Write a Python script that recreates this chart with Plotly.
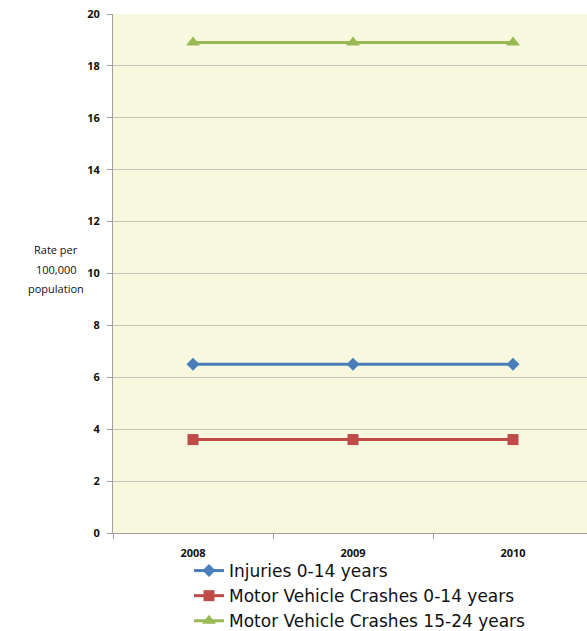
import plotly.graph_objects as go

years = ["2008", "2009", "2010"]
injuries_0_14 = [6.5, 6.5, 6.5]
mvc_0_14 = [3.6, 3.6, 3.6]
mvc_15_24 = [18.9, 18.9, 18.9]
y_ticks = [0, 2, 4, 6, 8, 10, 12, 14, 16, 18, 20]
y_title_lines = ["Rate per", "100,000", "population"]

series = [
    ("Injuries 0-14 years", injuries_0_14, "#4A7EBB", "diamond", 10),
    ("Motor Vehicle Crashes 0-14 years", mvc_0_14, "#BE4B48", "square", 11),
    ("Motor Vehicle Crashes 15-24 years", mvc_15_24, "#98B954", "triangle-up", 12),
]

fig = go.Figure()
for name, vals, color, symbol, size in series:
    fig.add_trace(go.Scatter(
        x=years, y=vals, name=name, mode="lines+markers",
        line=dict(color=color, width=3),
        marker=dict(symbol=symbol, size=size, color=color),
    ))

tick_font = dict(family="Open Sans, Arial, sans-serif", size=11, color="#111", weight="bold")

fig.update_layout(
    width=587, height=631,
    margin=dict(l=113, r=0, t=14, b=98, autoexpand=False),
    paper_bgcolor="white",
    plot_bgcolor="#F8F8DF",
    showlegend=True,
    legend=dict(
        xref="container", yref="container",
        x=0.322, xanchor="left", y=0.1236, yanchor="top",
        font=dict(family="DejaVu Sans, sans-serif", size=17, color="#111"),
        bgcolor="rgba(0,0,0,0)", tracegroupgap=0, itemwidth=30,
    ),
    xaxis=dict(
        type="category", range=[-0.5, 2.4625],
        tickson="boundaries", ticks="outside", ticklen=5, tickcolor="#A0A0A0",
        showgrid=False, showline=True, linecolor="#A0A0A0", linewidth=1,
        tickfont=tick_font, ticklabelstandoff=10, automargin=False,
    ),
    yaxis=dict(
        range=[0, 20], tickvals=y_ticks,
        ticks="outside", ticklen=5, tickcolor="#A0A0A0",
        showgrid=True, gridcolor="#C4C4BC", gridwidth=1,
        showline=True, linecolor="#A0A0A0", linewidth=1,
        tickfont=tick_font, zeroline=False, ticklabelstandoff=5,
        automargin=False,
    ),
)

# Axis title drawn as three stacked lines with wider spacing
for i, line in enumerate(y_title_lines):
    fig.add_annotation(
        text=line, xref="paper", yref="y", x=-0.12, y=10.92 - 0.75 * i,
        xanchor="center", yanchor="middle", showarrow=False,
        font=dict(family="Open Sans, Arial, sans-serif", size=11, color="#111"),
    )

fig.write_html("out.html")
